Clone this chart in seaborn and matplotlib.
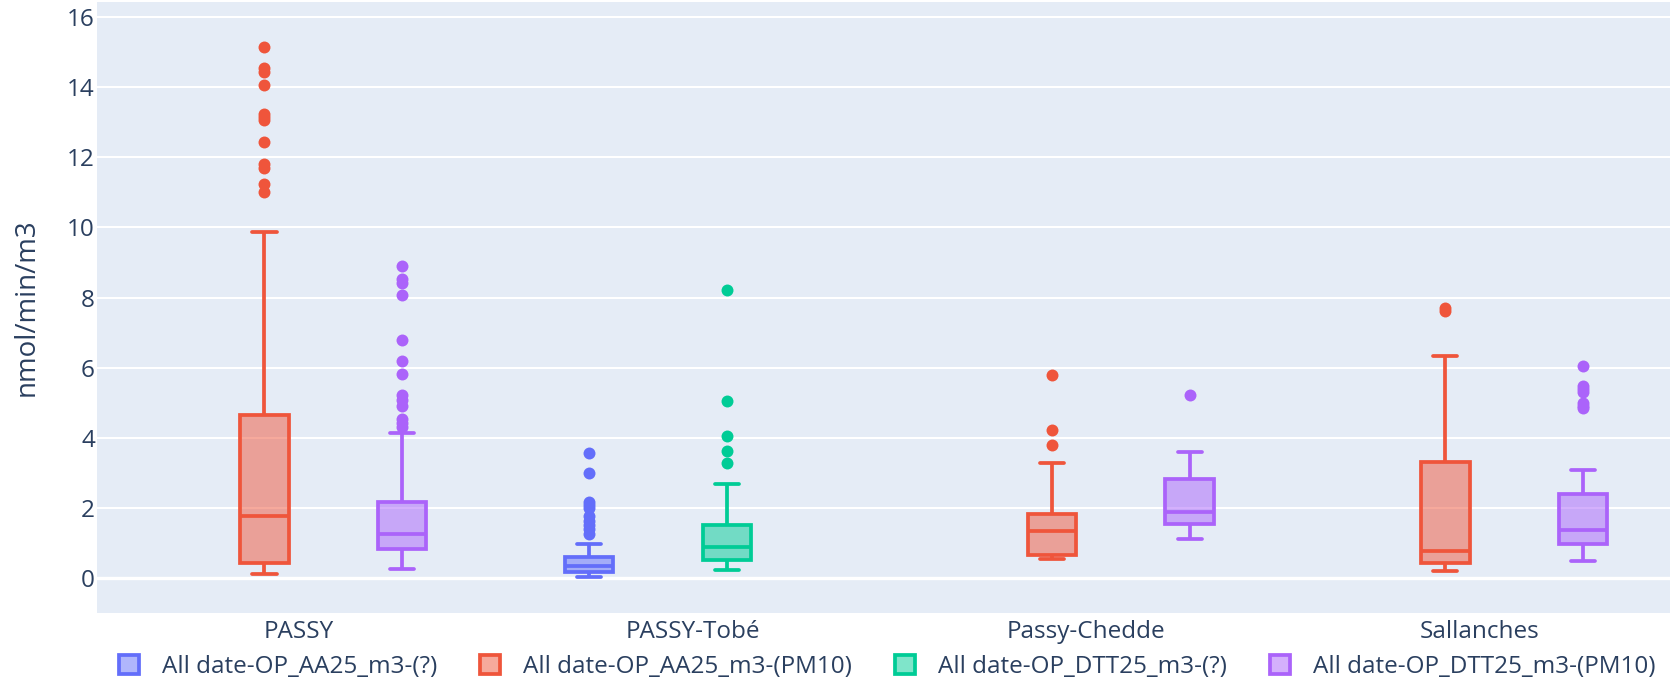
import matplotlib
matplotlib.use("Agg")
import matplotlib.pyplot as plt
from matplotlib.patches import Patch
from matplotlib.colors import to_rgba
import pandas as pd
import seaborn as sns

# Sites on the x axis and the four measurement series
sites = ["PASSY", "PASSY-Tobé", "Passy-Chedde", "Sallanches"]
series = [
    "All date-OP_AA25_m3-(?)",
    "All date-OP_AA25_m3-(PM10)",
    "All date-OP_DTT25_m3-(?)",
    "All date-OP_DTT25_m3-(PM10)",
]
series_colors = ["#636EFA", "#EF553B", "#00CC96", "#AB63FA"]

# One entry per box: site, series index, whisker ends, quartiles and outliers
box_site = ["PASSY", "PASSY", "PASSY-Tobé", "PASSY-Tobé",
            "Passy-Chedde", "Passy-Chedde", "Sallanches", "Sallanches"]
box_series = [1, 3, 0, 2, 1, 3, 1, 3]
whisker_low = [0.11, 0.26, 0.02, 0.22, 0.52, 1.11, 0.18, 0.47]
q1 = [0.43, 0.81, 0.15, 0.50, 0.64, 1.52, 0.43, 0.96]
median = [1.77, 1.24, 0.32, 0.88, 1.33, 1.88, 0.77, 1.36]
q3 = [4.65, 2.15, 0.58, 1.50, 1.83, 2.83, 3.29, 2.38]
whisker_high = [9.88, 4.12, 0.97, 2.68, 3.26, 3.60, 6.33, 3.07]
outliers = [
    [15.15, 14.55, 14.45, 14.07, 13.25, 13.15, 13.08, 12.45, 11.80, 11.70, 11.25, 11.02],
    [8.89, 8.53, 8.41, 8.07, 6.80, 6.19, 5.82, 5.23, 5.08, 4.91, 4.54, 4.43, 4.31],
    [3.57, 3.00, 2.17, 2.08, 2.00, 1.75, 1.62, 1.50, 1.38, 1.26],
    [8.22, 5.04, 4.04, 3.63, 3.28],
    [5.78, 4.21, 3.78],
    [5.21],
    [7.70, 7.62],
    [6.03, 5.47, 5.38, 5.30, 4.98, 4.90, 4.84],
]


def box_sample(lo, a, m, b, hi, extra):
    """Observations whose quartiles, whisker ends and fliers are the given ones."""
    k = len(extra) + 6
    return [lo] + [a] * k + [m] * k + [b] * k + [hi] + list(extra)


rows = []
for i in range(len(box_site)):
    vals = box_sample(whisker_low[i], q1[i], median[i], q3[i], whisker_high[i], outliers[i])
    for v in vals:
        rows.append({"site": box_site[i], "series": series[box_series[i]], "value": v})
df = pd.DataFrame(rows)

sns.set_theme(style="white")
plt.rcParams["font.family"] = ["Open Sans", "DejaVu Sans"]
text_color = "#2a3f5f"
lw = 2.7

fig = plt.figure(figsize=(16.73, 6.80), dpi=100)
ax = fig.add_axes([97 / 1673, 67 / 680, (1670 - 97) / 1673, (613 - 2) / 680])
ax.set_facecolor("#E5ECF6")

for i, name in enumerate(series):
    sub = df[df["series"] == name]
    if sub.empty:
        continue
    c = series_colors[i]
    sns.boxplot(
        data=sub, x="site", y="value", hue="series",
        order=sites, hue_order=series, palette=series_colors,
        saturation=1, fill=True, linecolor=c, linewidth=lw,
        width=0.7, gap=0.3, dodge=True, legend=False, ax=ax,
        flierprops=dict(marker="o", markersize=8.6, markerfacecolor=c,
                        markeredgecolor=c, markeredgewidth=0),
    )

# translucent box fill, opaque outline
for p in ax.patches:
    r, g, b, _ = p.get_facecolor()
    p.set_facecolor((r, g, b, 0.5))

ax.set_xlim(-0.513, 3.483)
ax.set_ylim(-1.01, 16.44)
ax.set_yticks(range(0, 17, 2))
ax.grid(axis="y", color="white", linewidth=1.44)
ax.grid(axis="x", visible=False)
ax.set_axisbelow(True)
ax.axhline(0, color="white", linewidth=2.4, zorder=1.5)
for s in ax.spines.values():
    s.set_visible(False)

ax.tick_params(axis="both", length=0, labelsize=17.5, labelcolor=text_color)
ax.tick_params(axis="y", pad=1.5)
ax.tick_params(axis="x", pad=5)
ax.set_xlabel("")
ax.set_ylabel("nmol/min/m3", fontsize=20, color=text_color, labelpad=19)

handles = [Patch(facecolor=to_rgba(c, 0.5), edgecolor=c, linewidth=lw) for c in series_colors]
fig.legend(
    handles, series, loc="center left", bbox_to_anchor=(119 / 1673, 13 / 680),
    ncol=4, frameon=False, handlelength=0.82, handleheight=0.82,
    handletextpad=0.95, columnspacing=1.77, borderpad=0, borderaxespad=0,
    fontsize=17.5, labelcolor=text_color,
)

fig.savefig("out.png", dpi=100, facecolor="white")
